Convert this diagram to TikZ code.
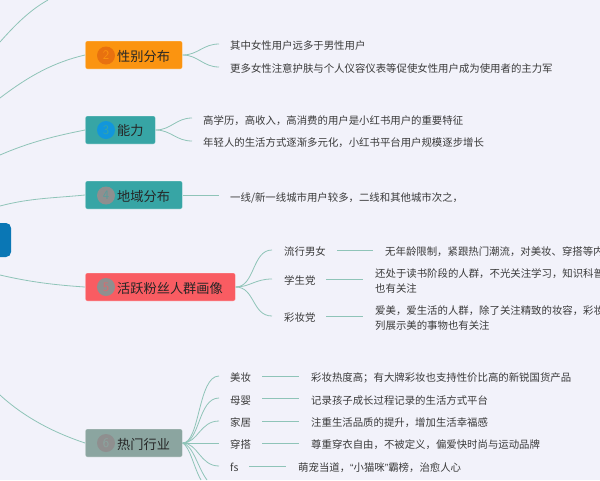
\documentclass[tikz,border=0pt]{standalone}
\usepackage{fontspec}
\newfontfamily\cjk{Noto Sans CJK SC}
\newfontfamily\latinq{Liberation Sans}
\definecolor{bgc}{HTML}{F2F2FA}
\definecolor{linec}{HTML}{8FC4B8}
\definecolor{txtc}{HTML}{3A3A3A}
\definecolor{orangec}{HTML}{FB9410}
\definecolor{tealc}{HTML}{37A5A5}
\definecolor{redc}{HTML}{F95C62}
\definecolor{grayc}{HTML}{8BA5A0}
\definecolor{rootc}{HTML}{0A77B5}
\definecolor{bdgo}{HTML}{E8710F}
\definecolor{bdgb}{HTML}{1296DB}
\definecolor{bdgg}{HTML}{8F8F8F}
\tikzset{
  topic/.style={draw=white,draw opacity=.35,line width=.7pt,rounded corners=2pt,minimum height=28pt,inner sep=0pt,anchor=west},
  toplabel/.style={anchor=west,inner sep=0pt,font=\cjk\fontsize{13.2}{13.2}\selectfont,text=black!85,yshift=-0.4pt},
  badge/.style={circle,minimum size=18pt,inner sep=0pt,font=\sffamily\fontsize{13}{13}\selectfont},
  leaf/.style={anchor=west,inner sep=0pt,text=txtc,align=left,font=\cjk\fontsize{10.4}{15.3}\selectfont,yshift=-0.8pt},
  link/.style={draw=linec,line width=.8pt},
}
\begin{document}
\begin{tikzpicture}[x=1pt,y=-1pt]
\useasboundingbox (0,0) rectangle (600,480);
\clip (0,0) rectangle (600,480);
\fill[bgc] (0,0) rectangle (600,480);
% root
\fill[rootc,rounded corners=5pt] (-10,223) rectangle (11,257);
\coordinate (r1) at (0,42);\coordinate (r2) at (0,98);\coordinate (r3) at (0,155);
\coordinate (r4) at (0,206);\coordinate (r5) at (0,275);\coordinate (r6) at (0,395);
\coordinate (e1) at (48,0);
\draw[link] (r1) .. controls (15,25) and (30,10) .. (e1);
% topics
\node[topic,fill=orangec,minimum width=97pt] (t2) at (85,55) {};
\node[topic,fill=tealc,minimum width=70pt] (t3) at (85,130) {};
\node[topic,fill=tealc,minimum width=97pt] (t4) at (85,195) {};
\node[topic,fill=redc,minimum width=150pt] (t5) at (85,287) {};
\node[topic,fill=grayc,minimum width=97pt] (t6) at (85,443) {};
\node[badge,fill=bdgo,text=orangec] (b2) at (106,55.5) {2};
\node[badge,fill=bdgb,text=tealc] (b3) at (106,130) {3};
\node[badge,fill=bdgg,text=tealc!60!bdgg] (b4) at (106,195.5) {4};
\node[badge,fill=bdgg,text=redc!70!bdgg] (b5) at (106,287) {5};
\node[badge,fill=bdgg,text=grayc] (b6) at (106,443) {6};
\node[toplabel] (l2) at (117,56) {性别分布};
\node[toplabel] (l3) at (117,130) {能力};
\node[toplabel] (l4) at (117,196) {地域分布};
\node[toplabel] (l5) at (117,288) {活跃粉丝人群画像};
\node[toplabel] (l6) at (117,444) {热门行业};
% root links
\draw[link] (r2) .. controls (30,75) and (55,62) .. (t2.west);
\draw[link] (r3) .. controls (30,142) and (55,136) .. (t3.west);
\draw[link] (r4) .. controls (30,198) and (55,198) .. (t4.west);
\draw[link] (r5) .. controls (30,282) and (55,285) .. (t5.west);
\draw[link] (r6) .. controls (25,418) and (55,433) .. (t6.west);
% leaves t2
\coordinate (c21) at (219,44);\coordinate (c22) at (219,67);
\node[leaf] (n21) at (230,45) {其中女性用户远多于男性用户};
\node[leaf] (n22) at (230,68) {更多女性注意护肤与个人仪容仪表等促使女性用户成为使用者的主力军};
\draw[link] (t2.east) .. controls (198,55) and (203,44) .. (c21);
\draw[link] (t2.east) .. controls (198,55) and (203,67) .. (c22);
% t3
\coordinate (c31) at (192,118);\coordinate (c32) at (192,141);
\node[leaf] (n31) at (203,120) {高学历，高收入，高消费的用户是小红书用户的重要特征};
\node[leaf] (n32) at (203,142) {年轻人的生活方式逐渐多元化，小红书平台用户规模逐步增长};
\draw[link] (t3.east) .. controls (171,130) and (176,118) .. (c31);
\draw[link] (t3.east) .. controls (171,130) and (176,141) .. (c32);
% t4
\coordinate (c41) at (219,195);
\node[leaf] (n41) at (230,197) {一线/新一线城市用户较多，二线和其他城市次之，};
\draw[link] (t4.east) -- (c41);
% t5
\coordinate (c51) at (272,250);\coordinate (c52) at (272,279);\coordinate (c53) at (272,316);
\node[leaf] (n51) at (284,251) {流行男女};
\node[leaf] (n52) at (284,280) {学生党};
\node[leaf] (n53) at (284,317) {彩妆党};
\draw[link] (t5.east) .. controls (255,287) and (252,250) .. (c51);
\draw[link] (t5.east) .. controls (250,287) and (255,279) .. (c52);
\draw[link] (t5.east) .. controls (255,287) and (252,316) .. (c53);
\coordinate (d51) at (337,250);\coordinate (d51e) at (373,250);
\coordinate (d52) at (326,279);\coordinate (d52e) at (363,279);
\coordinate (d53) at (326,316);\coordinate (d53e) at (363,316);
\draw[link] (d51) -- (d51e);\draw[link] (d52) -- (d52e);\draw[link] (d53) -- (d53e);
\node[leaf] (m51) at (385,251) {无年龄限制，紧跟热门潮流，对美妆、穿搭等内};
\node[leaf] (m52) at (375,280) {还处于读书阶段的人群，不光关注学习，知识科普\\也有关注};
\node[leaf] (m53) at (375,317) {爱美，爱生活的人群，除了关注精致的妆容，彩妆\\列展示美的事物也有关注};
% t6
\coordinate (c61) at (219,376);\coordinate (c62) at (219,398);\coordinate (c63) at (219,421);
\coordinate (c64) at (219,443);\coordinate (c65) at (219,466);
\coordinate (c66) at (207,480);\coordinate (c67) at (201,480);
\node[leaf] (n61) at (230,377) {美妆};
\node[leaf] (n62) at (230,400) {母婴};
\node[leaf] (n63) at (230,422) {家居};
\node[leaf] (n64) at (230,444) {穿搭};
\node[leaf] (n65) at (230,467) {fs};
\draw[link] (t6.east) .. controls (200,443) and (198,376) .. (c61);
\draw[link] (t6.east) .. controls (200,443) and (198,398) .. (c62);
\draw[link] (t6.east) .. controls (198,443) and (200,421) .. (c63);
\draw[link] (t6.east) -- (c64);
\draw[link] (t6.east) .. controls (198,443) and (200,466) .. (c65);
\draw[link] (t6.east) .. controls (193,445) and (198,468) .. (c66);
\draw[link] (t6.east) .. controls (190,447) and (194,468) .. (c67);
\foreach \y/\n in {376/1,398/2,421/3,443/4}{
  \coordinate (a\n) at (262,\y);\coordinate (z\n) at (299,\y);
  \draw[link] (a\n) -- (z\n);}
\coordinate (a5) at (249,466);\coordinate (z5) at (286,466);
\draw[link] (a5) -- (z5);
\node[leaf] (m61) at (311,377) {彩妆热度高；有大牌彩妆也支持性价比高的新锐国货产品};
\node[leaf] (m62) at (311,400) {记录孩子成长过程记录的生活方式平台};
\node[leaf] (m63) at (311,422) {注重生活品质的提升，增加生活幸福感};
\node[leaf] (m64) at (311,444) {尊重穿衣自由，不被定义，偏爱快时尚与运动品牌};
\node[leaf] (m65) at (298,467) {萌宠当道，{\latinq “}小猫咪{\latinq ”}霸榜，治愈人心};
\end{tikzpicture}
\end{document}
